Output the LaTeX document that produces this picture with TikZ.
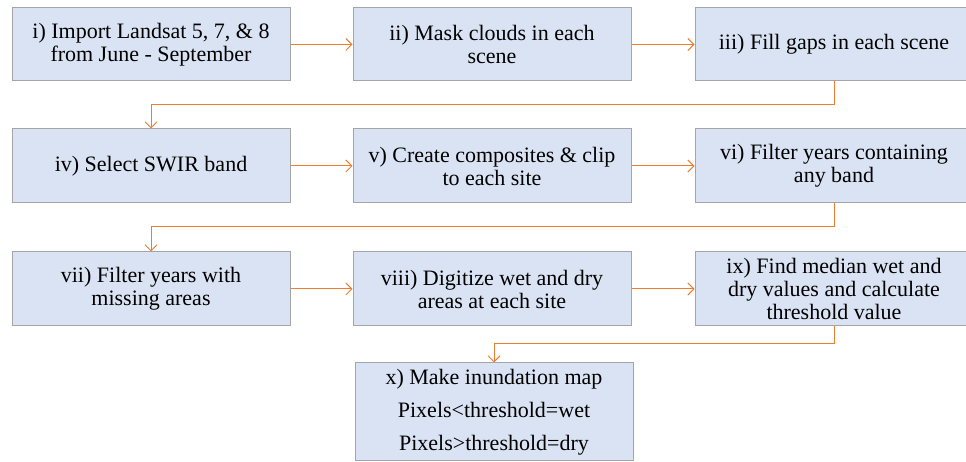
\documentclass[tikz,border=0pt]{standalone}
\usepackage{fontspec}
\setmainfont{Liberation Serif}
\usetikzlibrary{arrows.meta}
\definecolor{boxfill}{HTML}{DAE3F3}
\definecolor{boxline}{HTML}{A5A5A5}
\definecolor{arr}{HTML}{ED7D31}
\begin{document}
\begin{tikzpicture}[x=1pt,y=1pt,
  stepbox/.style={draw=boxline,line width=1pt,fill=boxfill,minimum width=278pt,minimum height=74pt,inner sep=0pt,align=center,font=\fontsize{22}{23}\selectfont},
  flow/.style={draw=arr,line width=1pt,-{Straight Barb[length=6pt,width=12pt,line width=1pt]}}]
\useasboundingbox (0,0) rectangle (966,462);
\fill[white] (0,0) rectangle (966,462);
% row 1
\node[stepbox,minimum height=73pt] (i) at (151,417.5) {i) Import Landsat 5, 7, \& 8\\from June - September};
\node[stepbox,minimum height=73pt] (ii) at (492,417.5) {ii) Mask clouds in each\\scene};
\node[stepbox,minimum height=73pt] (iii) at (834,417.5) {iii) Fill gaps in each scene};
% row 2
\node[stepbox] (iv) at (151,296) {iv) Select SWIR band};
\node[stepbox] (v) at (492,296) {v) Create composites \& clip\\to each site};
\node[stepbox] (vi) at (834,296) {vi) Filter years containing\\any band};
% row 3
\node[stepbox] (vii) at (151,173) {vii) Filter years with\\missing areas};
\node[stepbox] (viii) at (492,173) {viii) Digitize wet and dry\\areas at each site};
\node[stepbox] (ix) at (834,173) {ix) Find median wet and\\dry values and calculate\\threshold value};
% row 4
\node[stepbox,minimum height=98pt,font=\fontsize{22}{33}\selectfont] (x) at (494,50) {x) Make inundation map\\Pixels<threshold=wet\\Pixels>threshold=dry};
% connectors
\coordinate (m1) at (0,357);
\coordinate (m2) at (0,235);
\coordinate (m3) at (0,118);
\draw[flow] (i) -- (ii);
\draw[flow] (ii) -- (iii);
\draw[flow] (iii.south) -- (iii.south |- m1) -| (iv.north);
\draw[flow] (iv) -- (v);
\draw[flow] (v) -- (vi);
\draw[flow] (vi.south) -- (vi.south |- m2) -| (vii.north);
\draw[flow] (vii) -- (viii);
\draw[flow] (viii) -- (ix);
\draw[flow] (ix.south) -- (ix.south |- m3) -| (x.north);
\end{tikzpicture}
\end{document}
